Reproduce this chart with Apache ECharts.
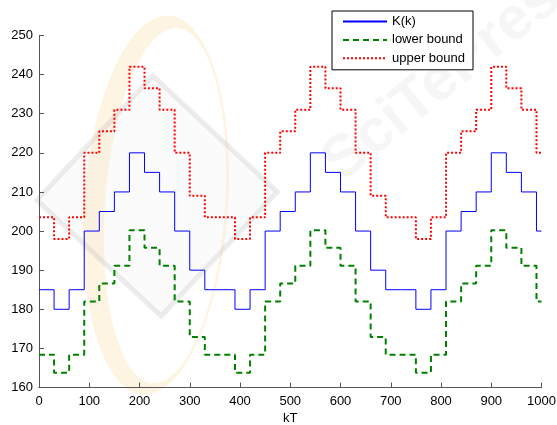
<!DOCTYPE html>
<html>
<head>
<meta charset="utf-8">
<script src="https://cdn.jsdelivr.net/npm/echarts@6/dist/echarts.min.js"></script>
<style>
html,body{margin:0;padding:0;background:#fff;}
#chart{width:557px;height:425px;}
</style>
</head>
<body>
<div id="chart"></div>
<script>
// Step start times (kT)
var stepTimes = [0,30,60,90,120,150,180,210,240,270,300,330,360,390,420,450,480,510,540,570,600,630,660,690,720,750,780,810,840,870,900,930,960,990,1000];
// K(k)
var kValues = [185,180,185,200,205,210,220,215,210,200,190,185,185,180,185,200,205,210,220,215,210,200,190,185,185,180,185,200,205,210,220,215,210,200,200];
// lower bound
var lowerValues = [168.4,163.8,168.4,182,186.6,191.1,200.2,195.7,191.1,182,172.9,168.4,168.4,163.8,168.4,182,186.6,191.1,200.2,195.7,191.1,182,172.9,168.4,168.4,163.8,168.4,182,186.6,191.1,200.2,195.7,191.1,182,182];
// upper bound
var upperValues = [203.5,198,203.5,220,225.5,231,242,236.5,231,220,209,203.5,203.5,198,203.5,220,225.5,231,242,236.5,231,220,209,203.5,203.5,198,203.5,220,225.5,231,242,236.5,231,220,220];
var xTicks = [0,100,200,300,400,500,600,700,800,900,1000];
var yTicks = [160,170,180,190,200,210,220,230,240,250];
var seriesNames = ['K(k)','lower bound','upper bound'];

function pairs(vals){ return stepTimes.map(function(t,i){ return [t, vals[i]]; }); }

// decorative faint watermark ring (background logo)
function ringPoints(){
  var pts = [], n = 90, i, a;
  for(i=0;i<=n;i++){ a = i/n*2*Math.PI; pts.push([72*Math.cos(a), 190*Math.sin(a)]); }
  for(i=n;i>=0;i--){ a = i/n*2*Math.PI; pts.push([9+60*Math.cos(a), 178*Math.sin(a)]); }
  return pts;
}

var chart = echarts.init(document.getElementById('chart'), null, {renderer:'canvas'});
var font = 'Liberation Sans, Arial, Helvetica, sans-serif';
chart.setOption({
  animation:false,
  backgroundColor:'#fff',
  graphic:[
    {type:'polygon', z:-10, x:156, y:205, rotation:-0.07, shape:{points:ringPoints()}, style:{fill:'rgba(250,200,110,0.2)'}},
    {type:'rect', z:-9, x:157, y:196, rotation:0.82, shape:{x:-85,y:-85,width:170,height:170}, style:{fill:'rgba(215,215,215,0.1)', stroke:'rgba(175,175,175,0.22)', lineWidth:5}},
    {type:'text', z:-9, x:455, y:70, rotation:0.68, style:{text:'SciTePress', font:'bold 60px '+font, fill:'rgba(160,160,160,0.09)', align:'center', verticalAlign:'middle'}}
  ],
  grid:{left:39, top:35.5, width:502.5, height:352, containLabel:false, outerBoundsMode:'none'},
  legend:{
    orient:'vertical', left:332, top:11,
    data:seriesNames,
    borderColor:'#000', borderWidth:1, backgroundColor:'#fff',
    padding:[4,8,5,10], itemWidth:44, itemHeight:14, itemGap:5.4,
    itemStyle:{opacity:0},
    textStyle:{fontFamily:font, fontSize:13, color:'#000'}
  },
  xAxis:{
    type:'value', min:0, max:1000, interval:100,
    name:'kT', nameLocation:'middle', nameGap:24,
    nameTextStyle:{fontFamily:font, fontSize:13, color:'#000'},
    axisLine:{show:true, lineStyle:{color:'#555', width:1}},
    axisTick:{show:true, inside:true, length:5, lineStyle:{color:'#555'}},
    axisLabel:{fontFamily:font, fontSize:13, color:'#000', margin:7, formatter:function(v){return String(v);}},
    splitLine:{show:false}
  },
  yAxis:{
    type:'value', min:160, max:250, interval:10,
    axisLine:{show:true, lineStyle:{color:'#555', width:1}},
    axisTick:{show:true, inside:true, length:5, lineStyle:{color:'#555'}},
    axisLabel:{fontFamily:font, fontSize:13, color:'#000', margin:6, formatter:function(v){return String(v);}},
    splitLine:{show:false}
  },
  series:[
    {name:seriesNames[0], type:'line', step:'end', data:pairs(kValues), showSymbol:false, symbol:'none',
     lineStyle:{color:'#0000ff', width:1}, itemStyle:{color:'#0000ff'}},
    {name:seriesNames[1], type:'line', step:'end', data:pairs(lowerValues), showSymbol:false, symbol:'none',
     lineStyle:{color:'#008000', width:2, type:[6,4]}, itemStyle:{color:'#008000'}},
    {name:seriesNames[2], type:'line', step:'end', data:pairs(upperValues), showSymbol:false, symbol:'none',
     lineStyle:{color:'#ff0000', width:2, type:[2,2]}, itemStyle:{color:'#ff0000'}}
  ]
});
</script>
</body>
</html>
